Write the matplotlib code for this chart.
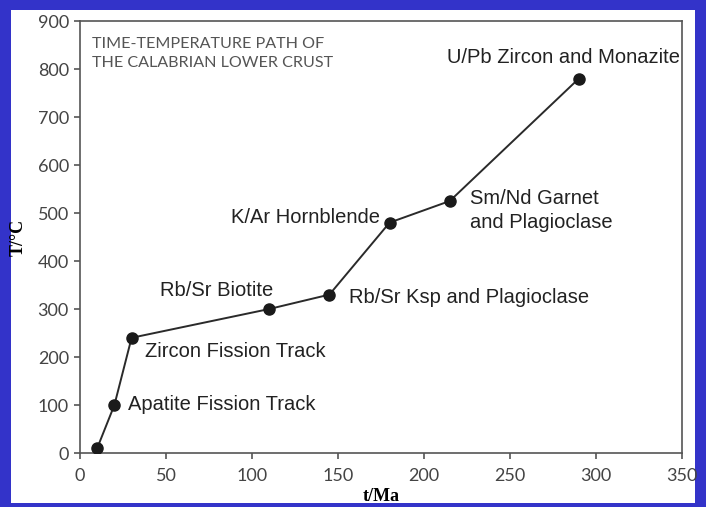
import matplotlib
matplotlib.use("Agg")
import matplotlib.pyplot as plt
from matplotlib.patches import Rectangle

# time (Ma) and temperature (C) of each geochronometer
age_ma = [10, 20, 30, 110, 145, 180, 215, 290]
temp_c = [10, 100, 240, 300, 330, 480, 525, 780]
labels = [
    "",
    "Apatite Fission Track",
    "Zircon Fission Track",
    "Rb/Sr Biotite",
    "Rb/Sr Ksp and Plagioclase",
    "K/Ar Hornblende",
    "Sm/Nd Garnet\nand Plagioclase",
    "U/Pb Zircon and Monazite",
]
# label offsets in points (dx, dy) and alignment
label_pos = [
    (0, 0, "left"),
    (10, 0, "left"),
    (9.5, -10, "left"),
    (3, 13, "right"),
    (14, -2, "left"),
    (-7, 3.5, "right"),
    (14.5, -7, "left"),
    (-95, 15, "left"),
]
x_ticks = [0, 50, 100, 150, 200, 250, 300, 350]
y_ticks = [0, 100, 200, 300, 400, 500, 600, 700, 800, 900]

fig = plt.figure(figsize=(7.06, 5.07), dpi=100)
fig.patch.set_facecolor("#3333c9")
fig.patches.append(Rectangle((11 / 706, 4 / 507), (695 - 11) / 706, (497 - 4) / 507,
                             transform=fig.transFigure, facecolor="white",
                             edgecolor="none", zorder=-1))

ax = fig.add_axes([80 / 706, 54 / 507, (682 - 80) / 706, (453 - 21) / 507])
ax.set_zorder(2)
ax.set_facecolor("white")
ax.plot(age_ma, temp_c, color="#2a2a2a", lw=1.4, marker="o", ms=8,
        mfc="#1a1a1a", mec="#1a1a1a", zorder=3)

for x, y, lab, (dx, dy, ha) in zip(age_ma, temp_c, labels, label_pos):
    if lab:
        ax.annotate(lab, (x, y), xytext=(dx, dy), textcoords="offset points",
                    ha=ha, va="center", fontsize=14.5, color="#222222",
                    family="Liberation Sans", linespacing=1.3)

ax.text(0.02, 0.963, "TIME-TEMPERATURE PATH OF\nTHE CALABRIAN LOWER CRUST",
        transform=ax.transAxes, ha="left", va="top", fontsize=11.6,
        color="#555555", family="Lato", linespacing=1.45)

ax.set_xlim(0, 350)
ax.set_ylim(0, 900)
ax.set_xticks(x_ticks)
ax.set_yticks(y_ticks)
for s in ax.spines.values():
    s.set_color("#555555")
    s.set_linewidth(1.2)
ax.tick_params(direction="out", length=4, width=1.2, color="#555555",
               labelsize=13, labelcolor="#444444")
ax.tick_params(axis="x", pad=7)
ax.tick_params(axis="y", pad=4)
for t in ax.get_xticklabels() + ax.get_yticklabels():
    t.set_family("Lato")

ax.set_xlabel("t/Ma", family="Liberation Serif", fontweight="bold",
              fontsize=13, labelpad=3)
ax.set_ylabel("T/°C", family="Liberation Serif", fontweight="bold",
              fontsize=13, labelpad=8)

fig.savefig("out.png", dpi=100, facecolor=fig.get_facecolor())
